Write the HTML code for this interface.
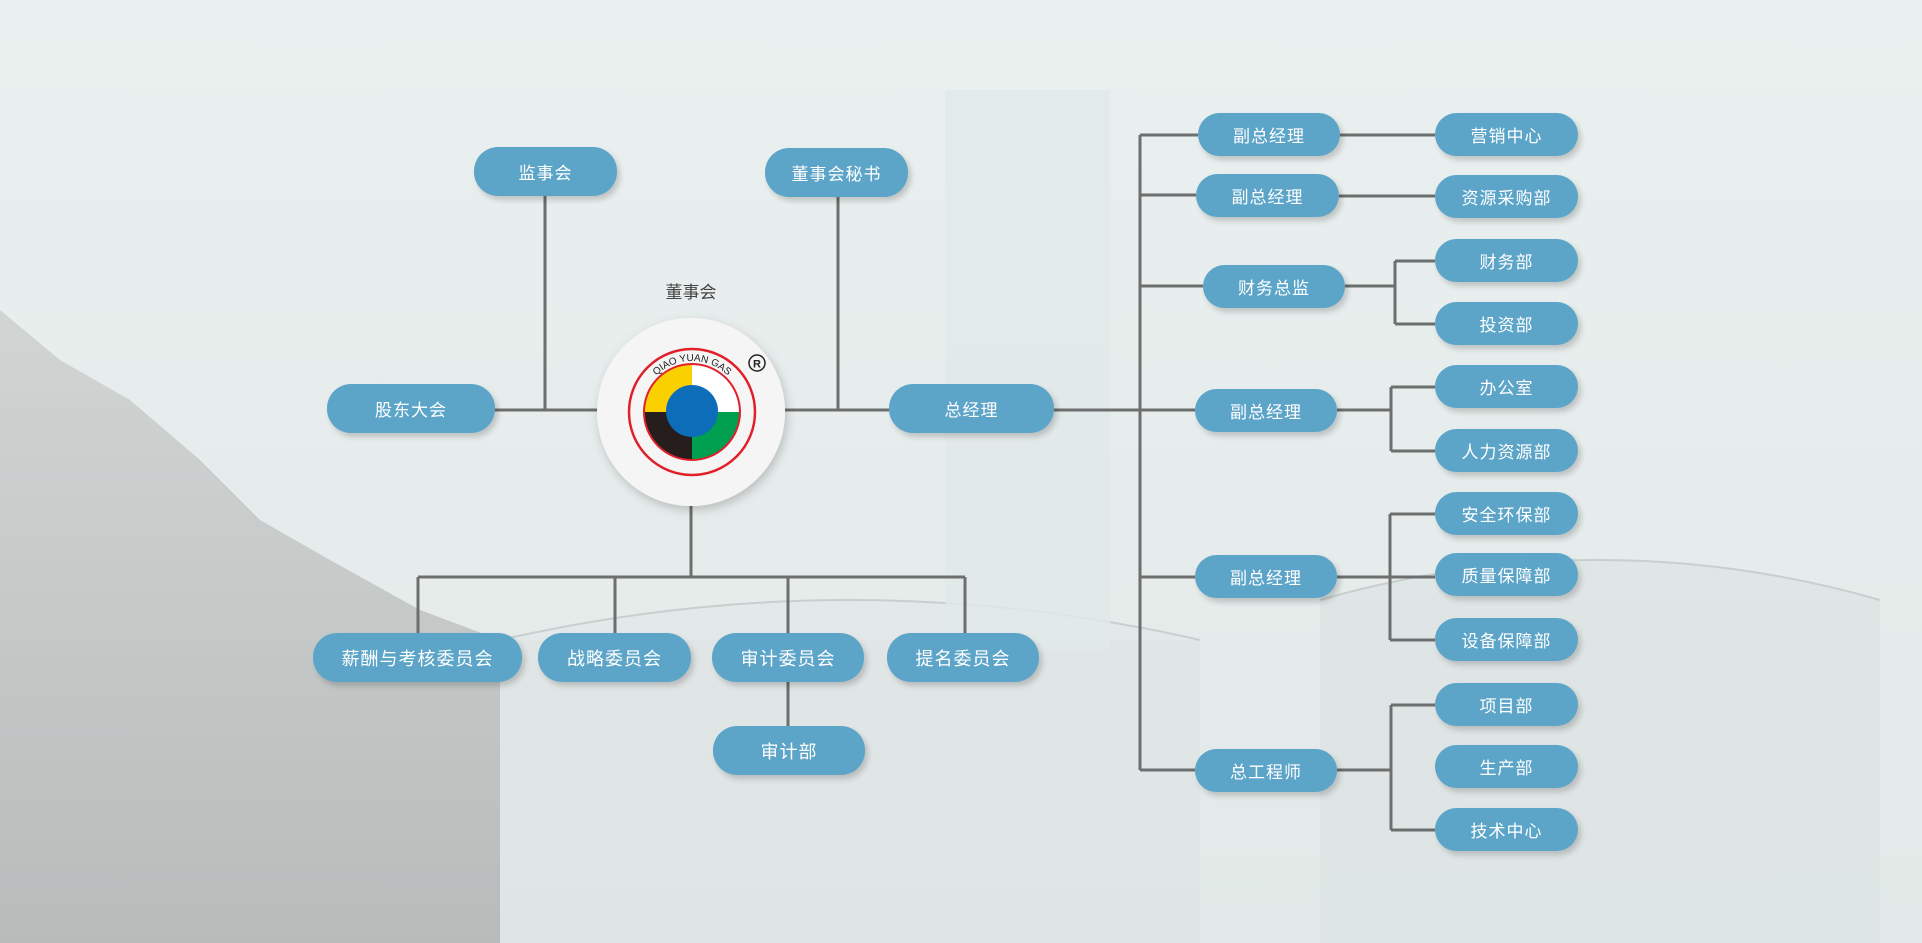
<!DOCTYPE html>
<html><head><meta charset="utf-8"><style>
html,body{margin:0;padding:0;}
body{width:1922px;height:943px;position:relative;overflow:hidden;background:#e7eeed;font-family:"Liberation Sans","Noto Sans CJK SC",sans-serif;}
.p{position:absolute;background:#5ca5c8;color:#fff;border-radius:24px;display:flex;align-items:center;justify-content:center;font-size:17px;letter-spacing:1px;box-shadow:3px 4px 6px rgba(0,0,0,0.18);}
svg{position:absolute;left:0;top:0;}
</style></head><body>
<svg width="1922" height="943">
<defs>
<linearGradient id="bg" x1="0" y1="0" x2="0" y2="1"><stop offset="0" stop-color="#eaf0ef"/><stop offset="1" stop-color="#e2e9e8"/></linearGradient>
<linearGradient id="hill" x1="0" y1="0" x2="0" y2="1"><stop offset="0" stop-color="#c9cdcc"/><stop offset="1" stop-color="#a9adac"/></linearGradient>
<filter id="sh"><feDropShadow dx="2" dy="4" stdDeviation="5" flood-opacity="0.2"/></filter>
<path id="arc" d="M 641 412 A 51 51 0 0 1 743 412"/>
</defs>
<rect width="1922" height="943" fill="url(#bg)"/>
<path d="M0 310 L60 360 L130 400 L200 460 L260 520 L330 560 L420 610 L500 640 L500 943 L0 943Z" fill="url(#hill)" opacity="0.75"/>
<rect x="500" y="640" width="700" height="303" fill="#dfe4e4" opacity="0.8"/>
<path d="M500 640 Q850 560 1200 640" fill="#e3e8e8" stroke="#c8cfcf" stroke-width="2"/>
<rect x="945" y="90" width="165" height="560" fill="#e1e8e8" opacity="0.8"/>
<rect x="1320" y="600" width="560" height="343" fill="#dde3e3" opacity="0.8"/>
<path d="M1320 600 Q1600 520 1880 600" fill="#e0e6e6" stroke="#c8cfcf" stroke-width="2"/>
<g stroke="#6d6e6e" stroke-width="3" fill="none">
<path d="M495 410 H889"/>
<path d="M545 196 V410"/>
<path d="M838 197 V410"/>
<path d="M691 506 V577 M418 577 H965 M418 577 V633 M615 577 V633 M788 577 V633 M965 577 V633"/>
<path d="M788 682 V726"/>
<path d="M1054 410 H1195"/>
<path d="M1140 135 V770"/>
<path d="M1140 135 H1198 M1140 195 H1196 M1140 286 H1203 M1140 577 H1195 M1140 770 H1195"/>
<path d="M1340 135 H1435 M1339 196 H1435"/>
<path d="M1345 286 H1395 M1395 261 V324 M1395 261 H1435 M1395 324 H1435"/>
<path d="M1337 410 H1391 M1391 387 V451 M1391 387 H1435 M1391 451 H1435"/>
<path d="M1337 577 H1435 M1390 514 V640 M1390 514 H1435 M1390 640 H1435"/>
<path d="M1337 770 H1391 M1391 705 V830 M1391 705 H1435 M1391 830 H1435"/>
</g>
<text x="691" y="298" font-size="17" fill="#444" text-anchor="middle" font-family="Liberation Sans,Noto Sans CJK SC,sans-serif">董事会</text>
<circle cx="691" cy="412" r="94" fill="#f5f5f5" filter="url(#sh)"/>
<circle cx="692" cy="412" r="63" fill="none" stroke="#e0202a" stroke-width="2.5"/>
<path d="M692 412 L692 364 A48 48 0 0 0 644 412Z" fill="#fbd000"/>
<path d="M692 412 L692 364 A48 48 0 0 1 740 412Z" fill="#fff"/>
<path d="M692 412 L644 412 A48 48 0 0 0 692 460Z" fill="#251e1d"/>
<path d="M692 412 L740 412 A48 48 0 0 1 692 460Z" fill="#00a050"/>
<circle cx="692" cy="412" r="48" fill="none" stroke="#e0202a" stroke-width="2"/>
<circle cx="692" cy="411" r="26" fill="#0e6db8"/>
<text font-size="10" fill="#222" font-family="Liberation Sans,sans-serif" text-anchor="middle"><textPath href="#arc" startOffset="50%">QIAO YUAN GAS</textPath></text>
<circle cx="757" cy="363" r="8" fill="none" stroke="#222" stroke-width="1.5"/>
<text x="757" y="367.5" font-size="11" font-weight="bold" text-anchor="middle" fill="#222" font-family="Liberation Sans,sans-serif">R</text>
</svg>
<div class="p" style="left:474px;top:147px;width:143px;height:49px;">监事会</div>
<div class="p" style="left:765px;top:148px;width:143px;height:49px;">董事会秘书</div>
<div class="p" style="left:327px;top:384px;width:168px;height:49px;">股东大会</div>
<div class="p" style="left:889px;top:384px;width:165px;height:49px;">总经理</div>
<div class="p" style="left:313px;top:633px;width:209px;height:49px;font-size:18px;">薪酬与考核委员会</div>
<div class="p" style="left:538px;top:633px;width:153px;height:49px;font-size:18px;">战略委员会</div>
<div class="p" style="left:712px;top:633px;width:152px;height:49px;font-size:18px;">审计委员会</div>
<div class="p" style="left:887px;top:633px;width:152px;height:49px;font-size:18px;">提名委员会</div>
<div class="p" style="left:713px;top:726px;width:152px;height:49px;font-size:18px;">审计部</div>
<div class="p" style="left:1198px;top:113px;width:142px;height:43px;">副总经理</div>
<div class="p" style="left:1196px;top:174px;width:143px;height:43px;">副总经理</div>
<div class="p" style="left:1203px;top:265px;width:142px;height:43px;">财务总监</div>
<div class="p" style="left:1195px;top:389px;width:142px;height:43px;">副总经理</div>
<div class="p" style="left:1195px;top:555px;width:142px;height:43px;">副总经理</div>
<div class="p" style="left:1195px;top:749px;width:142px;height:43px;">总工程师</div>
<div class="p" style="left:1435px;top:113px;width:143px;height:43px;">营销中心</div>
<div class="p" style="left:1435px;top:175px;width:143px;height:43px;">资源采购部</div>
<div class="p" style="left:1435px;top:239px;width:143px;height:43px;">财务部</div>
<div class="p" style="left:1435px;top:302px;width:143px;height:43px;">投资部</div>
<div class="p" style="left:1435px;top:365px;width:143px;height:43px;">办公室</div>
<div class="p" style="left:1435px;top:429px;width:143px;height:43px;">人力资源部</div>
<div class="p" style="left:1435px;top:492px;width:143px;height:43px;">安全环保部</div>
<div class="p" style="left:1435px;top:553px;width:143px;height:43px;">质量保障部</div>
<div class="p" style="left:1435px;top:618px;width:143px;height:43px;">设备保障部</div>
<div class="p" style="left:1435px;top:683px;width:143px;height:43px;">项目部</div>
<div class="p" style="left:1435px;top:745px;width:143px;height:43px;">生产部</div>
<div class="p" style="left:1435px;top:808px;width:143px;height:43px;">技术中心</div>
</body></html>
